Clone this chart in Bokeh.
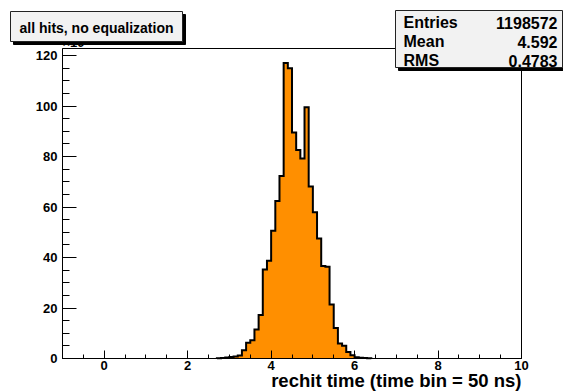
import numpy as np
from bokeh.plotting import figure
from bokeh.models import Range1d, FixedTicker, Label, BoxAnnotation
from bokeh.embed import file_html
from bokeh.resources import INLINE

# ---- data (bin low edges, entries in units of 10^3) ----
bin_low = [2.7, 2.8, 2.9, 3.0, 3.1, 3.2, 3.3, 3.4, 3.5, 3.6, 3.7, 3.8, 3.9,
           4.0, 4.1, 4.2, 4.3, 4.4, 4.5, 4.6, 4.7, 4.8, 4.9,
           5.0, 5.1, 5.2, 5.3, 5.4, 5.5, 5.6, 5.7, 5.8, 5.9,
           6.0, 6.1, 6.2, 6.3]
entries_k = [0.1, 0.2, 0.4, 0.6, 0.8, 1.2, 3.3, 6.2, 7.2, 11.5, 17.2, 35.3, 38.7,
             50.6, 62.4, 72.3, 117.1, 115.0, 89.5, 82.6, 79.2, 99.5, 68.1,
             57.9, 47.5, 36.6, 36.3, 21.4, 12.1, 5.9, 5.1, 2.6, 1.3,
             0.5, 0.3, 0.15, 0.1]
bin_width = 0.1

x_ticks = [0, 2, 4, 6, 8, 10]
x_minor = [-1, -0.5, 0, 0.5, 1, 1.5, 2, 2.5, 3, 3.5, 4, 4.5, 5, 5.5,
           6, 6.5, 7, 7.5, 8, 8.5, 9, 9.5, 10]
y_ticks = [0, 20, 40, 60, 80, 100, 120]
y_minor = [0, 5, 10, 15, 20, 25, 30, 35, 40, 45, 50, 55, 60, 65, 70, 75,
           80, 85, 90, 95, 100, 105, 110, 115, 120]
x_lim = (-1, 10)
y_lim = (0, 122.8)

stats_names = ["Entries", "Mean", "RMS"]
stats_values = ["1198572", "4.592", "0.4783"]
title_text = "all hits, no equalization"
x_title = "rechit time (time bin = 50 ns)"
y_exponent = "\u00d710\u00b3"

# ---- layout (canvas pixels) ----
W, H = 563, 392
FL, FR, FT, FB = 62, 521, 48, 358
FONT = "Liberation Sans"
ORANGE = "#ff8f00"

# the Bokeh frame covers the whole canvas; the ROOT-like frame is drawn inside it
kx = (FR - FL) / (x_lim[1] - x_lim[0])
ky = (FB - FT) / (y_lim[1] - y_lim[0])
xr = Range1d(x_lim[0] - FL / kx, x_lim[1] + (W - FR) / kx)
yr = Range1d(y_lim[0] - (H - FB) / ky, y_lim[1] + FT / ky)

p = figure(width=W, height=H, x_range=xr, y_range=yr,
           output_backend="svg", toolbar_location=None,
           min_border_left=0, min_border_right=0,
           min_border_top=0, min_border_bottom=0,
           background_fill_color="white", border_fill_color="white")
p.xgrid.visible = False
p.ygrid.visible = False
p.outline_line_color = None

left = np.array(bin_low)
right = left + bin_width
top = np.array(entries_k)

xs = [left[0]]
ys = [0.0]
for l, r, h in zip(left, right, top):
    xs += [l, r]
    ys += [h, h]
xs.append(right[-1])
ys.append(0.0)
p.patch(xs, ys, fill_color=ORANGE, line_color=None)
p.line(xs, ys, line_color="black", line_width=2, line_join="miter")

# frame
p.add_layout(BoxAnnotation(left=x_lim[0], right=x_lim[1], bottom=y_lim[0], top=y_lim[1],
                           fill_alpha=0, line_color="black", line_alpha=1, line_width=1))

for ax in (p.xaxis, p.yaxis):
    ax.axis_line_color = "black"
    ax.axis_line_width = 1
    ax.major_tick_line_color = "black"
    ax.minor_tick_line_color = "black"
    ax.major_tick_out = 0
    ax.minor_tick_out = 0
    ax.major_label_text_font = FONT
    ax.major_label_text_font_style = "bold"
    ax.major_label_text_font_size = "13px"
    ax.major_label_text_color = "black"

p.xaxis.ticker = FixedTicker(ticks=x_ticks, minor_ticks=x_minor)
p.xaxis.fixed_location = y_lim[0]
p.xaxis.bounds = x_lim
p.xaxis.major_tick_in = 8
p.xaxis.minor_tick_in = 4
p.xaxis.major_label_standoff = 2
p.yaxis.ticker = FixedTicker(ticks=y_ticks, minor_ticks=y_minor)
p.yaxis.fixed_location = x_lim[0]
p.yaxis.bounds = y_lim
p.yaxis.major_tick_in = 14
p.yaxis.minor_tick_in = 7
p.yaxis.major_label_standoff = 5


def lab(cx, cy, text, size, align="left"):
    # cy is the wanted baseline (canvas px, from top); compensate the renderer's offset
    return Label(x=cx, y=H - (cy - 0.35 * size), x_units="screen", y_units="screen",
                 text=text, text_font=FONT, text_font_style="bold",
                 text_font_size=f"{size}px", text_align=align,
                 text_baseline="alphabetic", text_color="black")


def box(l, t, r, b, fill, line):
    return BoxAnnotation(left=l, right=r, top=H - t, bottom=H - b,
                         left_units="screen", right_units="screen",
                         top_units="screen", bottom_units="screen",
                         fill_color=fill, fill_alpha=1,
                         line_color=line, line_alpha=1, line_width=1)


p.add_layout(lab(FL, 47, y_exponent, 13))
p.add_layout(lab(FR, 386, x_title, 18.5, align="right"))

# title box with shadow
p.add_layout(box(13, 14, 185, 44, "black", "black"))
p.add_layout(box(10, 11, 182, 41, "#f2f2f2", "#222222"))
p.add_layout(lab(96, 32, title_text, 14, align="center"))

# stats box with shadow
p.add_layout(box(398, 13, 566, 70, "black", "black"))
p.add_layout(box(395, 10, 562, 67, "#f2f2f2", "#222222"))
for i, (n, v) in enumerate(zip(stats_names, stats_values)):
    p.add_layout(lab(403, 28 + 19 * i, n, 16))
    p.add_layout(lab(557, 28 + 19 * i, v, 16, align="right"))

open("out.html", "w").write(file_html(p, INLINE))
